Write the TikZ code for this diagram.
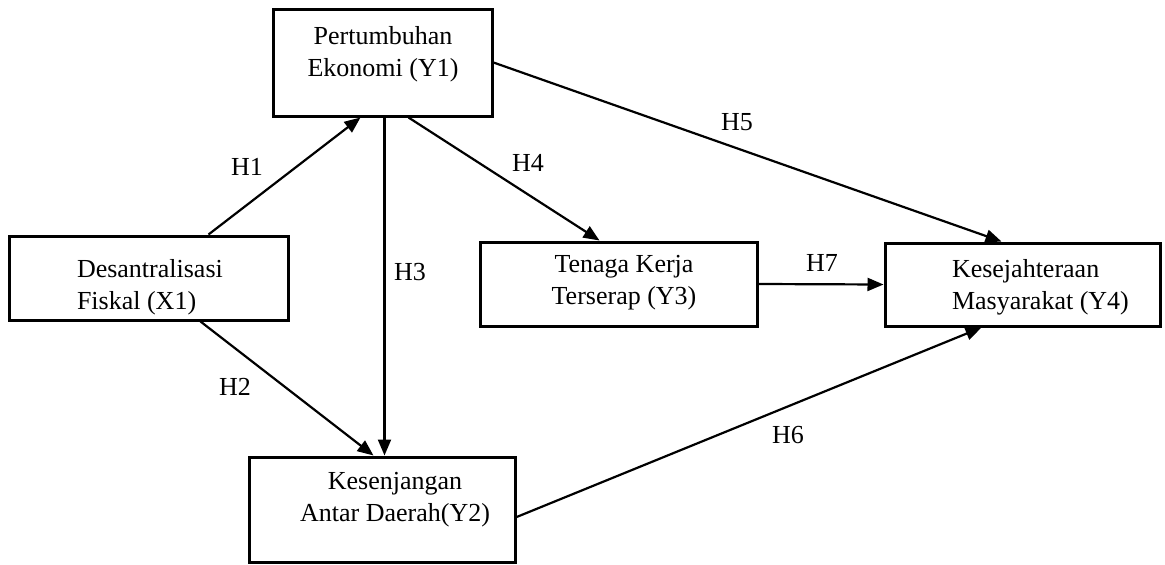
\documentclass[tikz,border=0pt]{standalone}
\usepackage{fontspec}
\setmainfont{Liberation Serif}
\usetikzlibrary{arrows.meta,calc}
\newlength{\du}
\setlength{\du}{1pt}

\begin{document}
\begin{tikzpicture}[
  kotak/.style={rectangle,draw=dialinecolor,line width=3\du,inner sep=0pt},
  teks/.style={inner sep=0pt,outer sep=0pt,color=dialinecolor,font=\fontsize{26}{32}\selectfont},
  panah/.style={draw=dialinecolor,line width=2.2\du,-{Triangle[length=16pt,width=13pt]}}
]
\pgftransformxscale{1.000000}
\pgftransformyscale{-1.000000}
\definecolor{dialinecolor}{rgb}{0.000000, 0.000000, 0.000000}
\definecolor{diafillcolor}{rgb}{1.000000, 1.000000, 1.000000}
\useasboundingbox[fill=diafillcolor] (0\du,0\du) rectangle (1165\du,565\du);
% kotak variabel
\node[kotak,minimum width=279\du,minimum height=84\du] (X1) at (148.5\du,278\du) {};
\node[kotak,minimum width=219\du,minimum height=107\du] (Y1) at (382.5\du,62.5\du) {};
\node[kotak,minimum width=266\du,minimum height=105\du] (Y2) at (382\du,509.5\du) {};
\node[kotak,minimum width=277\du,minimum height=84\du] (Y3) at (618.5\du,284\du) {};
\node[kotak,minimum width=275\du,minimum height=83\du] (Y4) at (1022.5\du,284.5\du) {};
% setfont left to latex
\node[teks,anchor=west,align=left] (X1t) at (77\du,287\du) {Desantralisasi\\Fiskal (X1)};
\node[teks,align=center] (Y1t) at (383\du,54\du) {Pertumbuhan\\Ekonomi (Y1)};
\node[teks,align=center] (Y2t) at (395\du,500\du) {Kesenjangan\\Antar Daerah(Y2)};
\node[teks,align=center] (Y3t) at (624\du,283\du) {Tenaga Kerja\\Terserap (Y3)};
\node[teks,anchor=west,align=left] (Y4t) at (952\du,287\du) {Kesejahteraan\\Masyarakat (Y4)};
% panah hipotesis
\draw[panah] ([xshift=201\du]X1.north west)--([xshift=89\du]Y1.south west);
\draw[panah] ([xshift=193\du]X1.south west)--([xshift=126\du]Y2.north west);
\draw[panah] ([xshift=113\du]Y1.south west)--([xshift=137\du]Y2.north west);
\draw[panah] ([xshift=137\du]Y1.south west)--([xshift=121\du]Y3.north west);
\draw[panah] (Y1.east)--([xshift=118\du]Y4.north west);
\draw[panah] ($(Y2.north east)!0.57!(Y2.south east)$)--([xshift=98\du]Y4.south west);
\draw[panah] (Y3.east)--(Y4.west);
% setfont left to latex
\node[teks] (H1) at (247\du,167\du) {H1};
\node[teks] (H2) at (235\du,387\du) {H2};
\node[teks] (H3) at (410\du,272\du) {H3};
\node[teks] (H4) at (528\du,163\du) {H4};
\node[teks] (H5) at (737\du,122\du) {H5};
\node[teks] (H6) at (788\du,435\du) {H6};
\node[teks] (H7) at (822\du,263\du) {H7};
\end{tikzpicture}
\end{document}
